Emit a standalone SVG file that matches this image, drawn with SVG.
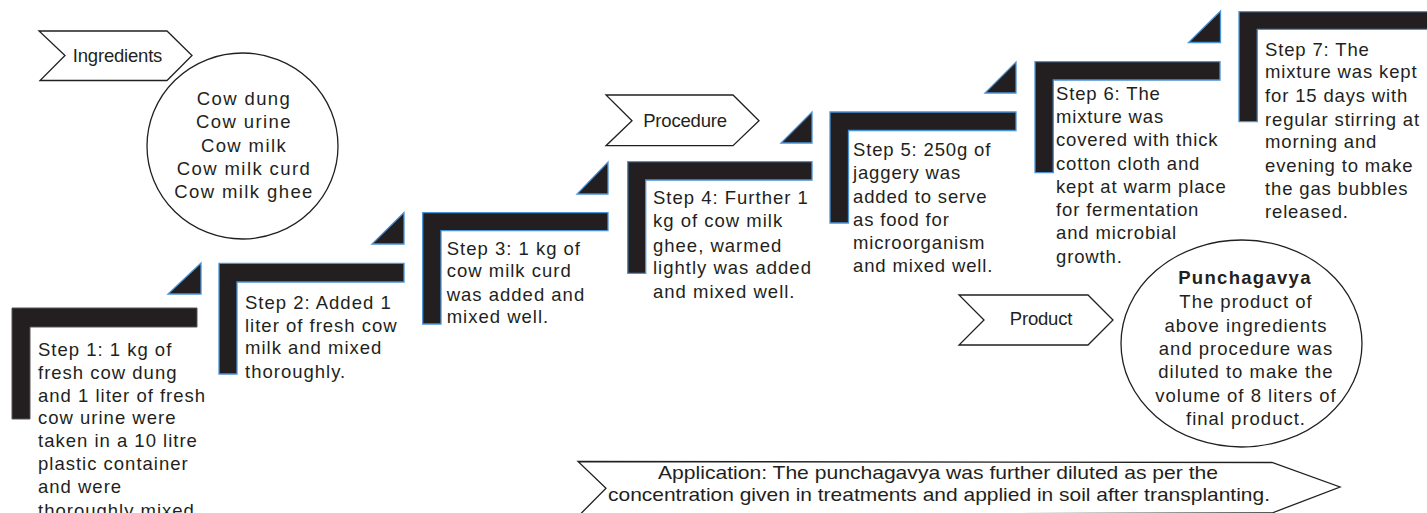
<svg xmlns="http://www.w3.org/2000/svg" width="1427" height="513" viewBox="0 0 1427 513">
<style>
.bg{fill:#ffffff}
.chev{fill:#ffffff;stroke:#231f20;stroke-width:1.3;stroke-linejoin:miter}
.circ{fill:#ffffff;stroke:#231f20;stroke-width:1.3}
.brk{fill:#231f20;stroke:#4a93d6;stroke-width:1.3}
.brk0{fill:#231f20;stroke:#555555;stroke-width:1}
.tri{fill:#231f20;stroke:#4a93d6;stroke-width:1.3}
text{font-family:"Liberation Sans",Arial,sans-serif;fill:#231f20}
.lbl{font-size:18.5px;letter-spacing:-0.2px;text-anchor:middle}
.ing{font-size:18.5px;letter-spacing:1.4px;text-anchor:middle}
.st{font-size:18.5px;letter-spacing:1px}
.st2{font-size:18.5px;letter-spacing:0.85px}
.pc{font-size:18.5px;letter-spacing:1px;text-anchor:middle}
.pcb{font-size:18.5px;letter-spacing:1.3px;font-weight:bold;text-anchor:middle}
.app{font-size:19px;text-anchor:middle}
</style>
<rect class="bg" x="0" y="0" width="1427" height="513"/>

<g id="connectors">
  <polygon class="tri" points="201,263 201,294 168,294"/>
  <polygon class="tri" points="404,212.5 404,244 372,244"/>
  <polygon class="tri" points="608,162 608,194 577,194"/>
  <polygon class="tri" points="812,112 812,143 781,143"/>
  <polygon class="tri" points="1016,62 1016,93 985,93"/>
  <polygon class="tri" points="1220.5,11 1220.5,42.5 1188.5,42.5"/>
</g>

<g id="ingredients-label">
  <polygon class="chev" points="39,31 167,31 192,55.5 167,80.5 40,80.5 65,55.5"/>
  <text class="lbl" x="117.5" y="62">Ingredients</text>
</g>

<g id="ingredients">
  <ellipse class="circ" cx="242.5" cy="146" rx="95.5" ry="93"/>
  <text class="ing" x="244" y="105">Cow dung</text>
  <text class="ing" x="244" y="128.3">Cow urine</text>
  <text class="ing" x="244" y="151.7">Cow milk</text>
  <text class="ing" x="244" y="175">Cow milk curd</text>
  <text class="ing" x="244" y="198.3">Cow milk ghee</text>
</g>

<g id="step1">
  <path class="brk0" d="M12,308 H197 V327 H30 V419 H12 Z"/>
  <text class="st" x="38" y="356">Step 1: 1 kg of</text>
  <text class="st" x="38" y="378.5">fresh cow dung</text>
  <text class="st" x="38" y="401.5">and 1 liter of fresh</text>
  <text class="st" x="38" y="424">cow urine were</text>
  <text class="st" x="38" y="447">taken in a 10 litre</text>
  <text class="st" x="38" y="470">plastic container</text>
  <text class="st" x="38" y="493">and were</text>
  <text class="st" x="38" y="516.5">thoroughly mixed</text>
</g>

<g id="step2">
  <path class="brk" d="M219,263.3 H404 V282 H237 V374 H219 Z"/>
  <text class="st" x="245" y="309.3">Step 2: Added 1</text>
  <text class="st" x="245" y="331.7">liter of fresh cow</text>
  <text class="st" x="245" y="354">milk and mixed</text>
  <text class="st" x="245" y="378.3">thoroughly.</text>
</g>

<g id="step3">
  <path class="brk" d="M422.7,212.7 H608 V230.7 H441 V324 H422.7 Z"/>
  <text class="st" x="446.7" y="255">Step 3: 1 kg of</text>
  <text class="st" x="446.7" y="277.3">cow milk curd</text>
  <text class="st" x="446.7" y="300.7">was added and</text>
  <text class="st" x="446.7" y="323.3">mixed well.</text>
</g>

<g id="procedure-label">
  <polygon class="chev" points="606,95 733,95 759,120.7 733,145.7 606,145.7 632,120.7"/>
  <text class="lbl" x="685" y="126.7">Procedure</text>
</g>

<g id="step4">
  <path class="brk" d="M627.7,161.7 H812 V180 H645.7 V273.3 H627.7 Z"/>
  <text class="st" x="653" y="204">Step 4: Further 1</text>
  <text class="st" x="653" y="226.7">kg of cow milk</text>
  <text class="st" x="653" y="251.7">ghee, warmed</text>
  <text class="st" x="653" y="274">lightly was added</text>
  <text class="st" x="653" y="298.3">and mixed well.</text>
</g>

<g id="step5">
  <path class="brk" d="M830,112 H1016 V130.5 H848.5 V223 H830 Z"/>
  <text class="st2" x="853" y="156">Step 5: 250g of</text>
  <text class="st2" x="853" y="179.3">jaggery was</text>
  <text class="st2" x="853" y="202.7">added to serve</text>
  <text class="st2" x="853" y="226">as food for</text>
  <text class="st2" x="853" y="249.3">microorganism</text>
  <text class="st2" x="853" y="271.7">and mixed well.</text>
</g>

<g id="step6">
  <path class="brk" d="M1035,61.7 H1220 V80 H1053.3 V172.7 H1035 Z"/>
  <text class="st2" x="1056" y="100">Step 6: The</text>
  <text class="st2" x="1056" y="122.7">mixture was</text>
  <text class="st2" x="1056" y="146">covered with thick</text>
  <text class="st2" x="1056" y="170">cotton cloth and</text>
  <text class="st2" x="1056" y="192.7">kept at warm place</text>
  <text class="st2" x="1056" y="216">for fermentation</text>
  <text class="st2" x="1056" y="239.3">and microbial</text>
  <text class="st2" x="1056" y="262.7">growth.</text>
</g>

<g id="step7">
  <path class="brk" d="M1239,11.7 H1432 V29.3 H1257.3 V121.7 H1239 Z"/>
  <text class="st2" x="1265" y="56">Step 7: The</text>
  <text class="st2" x="1265" y="78.3">mixture was kept</text>
  <text class="st2" x="1265" y="101.7">for 15 days with</text>
  <text class="st2" x="1265" y="126">regular stirring at</text>
  <text class="st2" x="1265" y="148.3">morning and</text>
  <text class="st2" x="1265" y="171.7">evening to make</text>
  <text class="st2" x="1265" y="195">the gas bubbles</text>
  <text class="st2" x="1265" y="218.3">released.</text>
</g>

<g id="product-label">
  <polygon class="chev" points="959,295 1088,295 1113,320 1088,345 959,345 984,320"/>
  <text class="lbl" x="1041" y="325">Product</text>
</g>

<g id="product">
  <ellipse class="circ" cx="1241.5" cy="343.5" rx="120.5" ry="103.5"/>
  <text class="pcb" x="1245" y="284.3">Punchagavya</text>
  <text class="pc" x="1246" y="308.3">The product of</text>
  <text class="pc" x="1246" y="331.7">above ingredients</text>
  <text class="pc" x="1246" y="355">and procedure was</text>
  <text class="pc" x="1246" y="378.3">diluted to make the</text>
  <text class="pc" x="1246" y="401.7">volume of 8 liters of</text>
  <text class="pc" x="1246" y="425">final product.</text>
</g>

<g id="application">
  <polygon class="chev" points="578,461.5 1272,462.5 1340,487 1272,513 580,514.5 606,488.3"/>
  <text class="app" x="938" y="478.5" textLength="560" lengthAdjust="spacingAndGlyphs">Application: The punchagavya was further diluted as per the</text>
  <text class="app" x="939" y="501" textLength="662" lengthAdjust="spacingAndGlyphs">concentration given in treatments and applied in soil after transplanting.</text>
</g>
</svg>
